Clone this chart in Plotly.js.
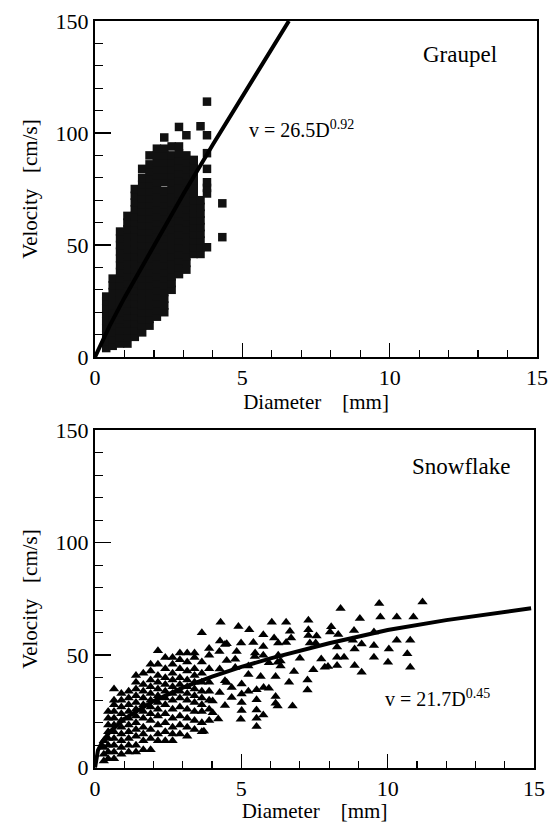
<!DOCTYPE html>
<html>
<head>
<meta charset="utf-8">
<script src="https://cdn.plot.ly/plotly-3.0.1.min.js"></script>
<style>html,body{margin:0;padding:0;background:#fff;}#chart{width:555px;height:823px;}</style>
</head>
<body>
<div id="chart"></div>
<script>
// ---------- Graupel data (columns of diameter, velocity values) ----------
const graupelCols = [0.38, 0.6, 0.85, 1.1, 1.35, 1.6, 1.85, 2.1, 2.35, 2.6, 2.85, 3.1, 3.35, 3.58, 3.8, 4.32];
const graupelV = [
  [4, 7, 10, 13, 16, 19, 22, 25, 27],
  [5, 8, 11, 14, 17, 20, 23, 26, 29, 32, 35],
  [6, 9, 12, 15, 17, 20, 23, 26, 29, 32, 35, 38, 41, 44, 47, 50, 53, 56],
  [6, 9, 12, 15, 18, 21, 24, 27, 30, 33, 36, 39, 42, 45, 48, 51, 54, 57, 60, 63],
  [9, 12, 15, 18, 21, 24, 27, 30, 33, 36, 39, 42, 45, 48, 51, 54, 57, 60, 63, 66, 69, 72, 75],
  [11, 14, 17, 20, 23, 26, 29, 32, 35, 38, 41, 44, 47, 50, 53, 56, 59, 62, 65, 68, 71, 74, 77, 80, 84],
  [14, 17, 20, 23, 26, 29, 32, 35, 38, 41, 44, 47, 50, 53, 56, 59, 62, 65, 68, 71, 74, 77, 80, 83, 86, 90],
  [18, 21, 24, 27, 30, 33, 36, 39, 42, 45, 48, 51, 54, 57, 60, 63, 66, 69, 72, 75, 78, 81, 84, 87, 90, 93],
  [20, 23, 26, 29, 32, 35, 38, 41, 44, 47, 50, 53, 56, 59, 62, 65, 68, 71, 74, 78, 81, 84, 87, 90, 93, 98],
  [30, 33, 36, 39, 42, 45, 48, 51, 54, 57, 60, 63, 66, 69, 72, 75, 78, 81, 84, 87, 90, 94],
  [37, 40, 43, 46, 49, 52, 55, 58, 61, 64, 67, 70, 73, 76, 79, 82, 85, 88, 91, 94, 102.7],
  [39, 42, 45, 48, 51, 54, 57, 60, 63, 66, 69, 72, 75, 78, 81, 84, 87, 90, 99],
  [46, 49, 52, 55, 58, 61, 64, 67, 70, 73, 76, 79, 82, 85, 88],
  [46, 49, 52, 55, 58, 61, 64, 67, 70, 103],
  [49, 73, 75.5, 78, 84, 91, 99, 114],
  [53.5, 68.6]
];
// Graupel fit line v = 26.5 D^0.92
const graupelFitD = [0, 0.25, 0.5, 1, 2, 3, 4, 5, 6, 6.58];
const graupelFitV = [0, 7.4, 14.0, 26.5, 50.1, 72.8, 94.9, 116.5, 137.7, 150];

// ---------- Snowflake data ----------
const snowCols = [0.3, 0.45, 0.65, 0.9, 1.15, 1.4, 1.65, 1.9, 2.15, 2.4, 2.65, 2.9, 3.15, 3.4, 3.65, 3.9];
const snowV = [
  [3, 6, 9, 12],
  [4, 7, 10, 13, 16, 19, 22, 25],
  [4, 7, 10, 13, 16, 19, 22, 25, 28, 30, 35],
  [6, 9, 12, 15, 18, 21, 24, 27, 30, 33],
  [7, 10, 13, 16, 19, 22, 25, 28, 31, 34],
  [7, 10, 14, 17, 20, 23, 26, 29, 32, 35, 38, 41],
  [8, 12, 15, 18, 22, 25, 28, 31, 34, 37, 42],
  [8, 13, 17, 21, 24, 27, 30, 33, 36, 39, 43, 46],
  [12, 15, 19, 23, 26, 29, 32, 35, 38, 41, 46, 52],
  [12, 16, 20, 24, 28, 31, 34, 37, 40, 44, 49],
  [12, 15, 18, 22, 26, 30, 33, 36, 39, 42, 46, 49],
  [15, 19, 23, 27, 31, 34, 37, 40, 44, 48, 51],
  [14, 18, 22, 26, 30, 33, 36, 39, 43, 47, 51],
  [17, 21, 25, 29, 32, 35, 38, 41, 44, 49, 51],
  [16, 20, 25, 28, 31, 34, 38, 42, 47, 60],
  [21, 26, 30, 34, 38, 44, 50, 53]
];
const snowSparseD = [3.72, 4.02, 4.02, 4.26, 4.26, 4.5, 4.27, 4.29, 4.44, 4.25, 4.44, 4.44, 4.21, 4.5, 4.5, 4.67, 4.67, 4.79, 4.79, 4.84, 4.9, 4.99, 5.01, 5.01, 5.01, 5.01, 4.98,
  5.24, 5.24, 5.24, 5.27, 5.41, 5.47, 5.52, 5.52, 5.52, 5.52, 5.52, 5.46, 5.66, 5.75, 5.75, 5.75, 5.75, 5.76, 5.94, 5.94,
  6.04, 6.12, 6.17, 6.17, 6.17, 6.24, 6.24, 6.26, 6.26, 6.34, 6.34, 6.53, 6.53, 6.63, 6.66, 6.7, 6.75, 6.8, 7.0,
  7.26, 7.26, 7.29, 7.29, 7.29, 7.34, 7.46, 7.54, 7.57, 7.73, 7.85, 7.96, 8.03, 8.07, 8.27, 8.27, 8.27, 8.31, 8.39, 8.51,
  8.81, 8.85, 8.87, 8.87, 9.05, 9.11, 9.11, 9.53, 9.53, 9.53, 9.71, 9.75, 10.01, 10.04, 10.31, 10.31, 10.67, 10.77, 10.77, 10.88, 11.19];
const snowSparseV = [16.2, 29.6, 24.4, 33.4, 43.9, 55.1, 56.3, 64.6, 54.8, 51.7, 38.6, 27.6, 21.6, 47.6, 37.9, 35.7, 31.2, 48.2, 44.5, 51.7, 62.8, 55.4, 37.2, 32.8, 29, 25.4, 21.5,
  34, 41.4, 45.2, 61.3, 55.7, 51, 34.6, 30.2, 25.7, 22, 18.3, 49.4, 40.5, 59.1, 53.9, 50, 23.4, 35.6, 46.7, 35.3,
  64.6, 57.6, 40.5, 31.6, 28.6, 46.9, 27.4, 55.4, 50, 47.4, 45.2, 64.6, 55.7, 38, 60.6, 57.6, 27.4, 42.8, 48.7,
  39, 34.5, 65.5, 61.3, 58.8, 55.4, 43.5, 55.4, 58.5, 48.3, 44.6, 45, 60.3, 62.6, 53.6, 49.1, 45.4, 59.2, 70.8, 49.1,
  56.6, 61, 52.8, 45.4, 66.3, 55, 42.4, 60.3, 54.3, 49.1, 73, 67, 46.9, 52.8, 67, 56.6, 50.6, 56.6, 44.6, 67, 73.7];
// Snowflake fit line v = 21.7 D^0.45
const snowFitD = [0, 0.1, 0.25, 0.5, 1, 2, 3, 4, 5, 6, 8, 10, 12, 14, 14.9];
const snowFitV = [0, 7.7, 11.6, 15.9, 21.7, 29.6, 35.6, 40.5, 44.8, 48.6, 55.3, 61.2, 65.6, 69.3, 70.9];

// flatten column data
function flatten(cols, vals) {
  const xs = [], ys = [];
  cols.forEach((d, i) => vals[i].forEach(v => { xs.push(d); ys.push(v); }));
  return [xs, ys];
}
const [gx, gy] = flatten(graupelCols, graupelV);
const [sx0, sy0] = flatten(snowCols, snowV);
const sx = sx0.concat(snowSparseD), sy = sy0.concat(snowSparseV);

const FONT = '"Liberation Serif", "Times New Roman", serif';
const traces = [
  {x: gx, y: gy, xaxis: 'x', yaxis: 'y', type: 'scatter', mode: 'markers',
   marker: {symbol: 'square', size: 8.5, color: '#111'}, hoverinfo: 'skip'},
  {x: graupelFitD, y: graupelFitV, xaxis: 'x', yaxis: 'y', type: 'scatter', mode: 'lines',
   line: {color: '#000', width: 4}},
  {x: sx, y: sy, xaxis: 'x2', yaxis: 'y2', type: 'scatter', mode: 'markers',
   marker: {symbol: 'triangle-up', size: 9, color: '#000'}},
  {x: snowFitD, y: snowFitV, xaxis: 'x2', yaxis: 'y2', type: 'scatter', mode: 'lines',
   line: {color: '#000', width: 4}}
];

function xax(domain, anchor) {
  return {domain: domain, anchor: anchor, range: [0, 15], tickvals: [0, 5, 10, 15],
    ticks: 'inside', ticklen: 14, tickwidth: 1.5, tickcolor: '#000',
    minor: {dtick: 1, tick0: 0, ticks: 'inside', ticklen: 7, tickwidth: 1.2, tickcolor: '#000'},
    showline: true, linewidth: 2, linecolor: '#000', mirror: true,
    showgrid: false, zeroline: false,
    tickfont: {family: FONT, size: 22, color: '#000'},
    title: {text: 'Diameter\u00a0\u00a0\u00a0\u00a0[mm]', font: {family: FONT, size: 21, color: '#000'}, standoff: 4}};
}
function yax(domain, anchor) {
  return {domain: domain, anchor: anchor, range: [0, 150], tickvals: [0, 50, 100, 150],
    ticks: 'inside', ticklen: 16, tickwidth: 1.5, tickcolor: '#000',
    minor: {dtick: 10, tick0: 0, ticks: 'inside', ticklen: 8, tickwidth: 1.2, tickcolor: '#000'},
    showline: true, linewidth: 2, linecolor: '#000', mirror: true,
    showgrid: false, zeroline: false,
    tickfont: {family: FONT, size: 22, color: '#000'},
    title: {text: 'Velocity\u00a0\u00a0\u00a0[cm/s]', font: {family: FONT, size: 21, color: '#000'}, standoff: 12}};
}

const layout = {
  width: 555, height: 823, margin: {l: 0, r: 0, t: 0, b: 0},
  paper_bgcolor: '#fff', plot_bgcolor: '#fff', showlegend: false,
  font: {family: FONT, color: '#000'},
  xaxis: xax([0.1712, 0.9676], 'y'),
  yaxis: yax([0.5662, 0.9745], 'x'),
  xaxis2: xax([0.1712, 0.9622], 'y2'),
  yaxis2: yax([0.0672, 0.4772], 'x2'),
  annotations: [
    {xref: 'x', yref: 'y', x: 12.4, y: 135, text: 'Graupel', showarrow: false,
     font: {family: FONT, size: 23, color: '#000'}},
    {xref: 'x', yref: 'y', x: 5.15, y: 102, xanchor: 'left', text: 'v = 26.5D<sup>0.92</sup>', showarrow: false,
     font: {family: FONT, size: 20, color: '#000'}},
    {xref: 'x2', yref: 'y2', x: 12.5, y: 134, text: 'Snowflake', showarrow: false,
     font: {family: FONT, size: 23, color: '#000'}},
    {xref: 'x2', yref: 'y2', x: 9.85, y: 31, xanchor: 'left', text: 'v = 21.7D<sup>0.45</sup>', showarrow: false,
     font: {family: FONT, size: 20, color: '#000'}}
  ]
};

Plotly.newPlot('chart', traces, layout, {staticPlot: true, displayModeBar: false});
</script>
</body>
</html>
